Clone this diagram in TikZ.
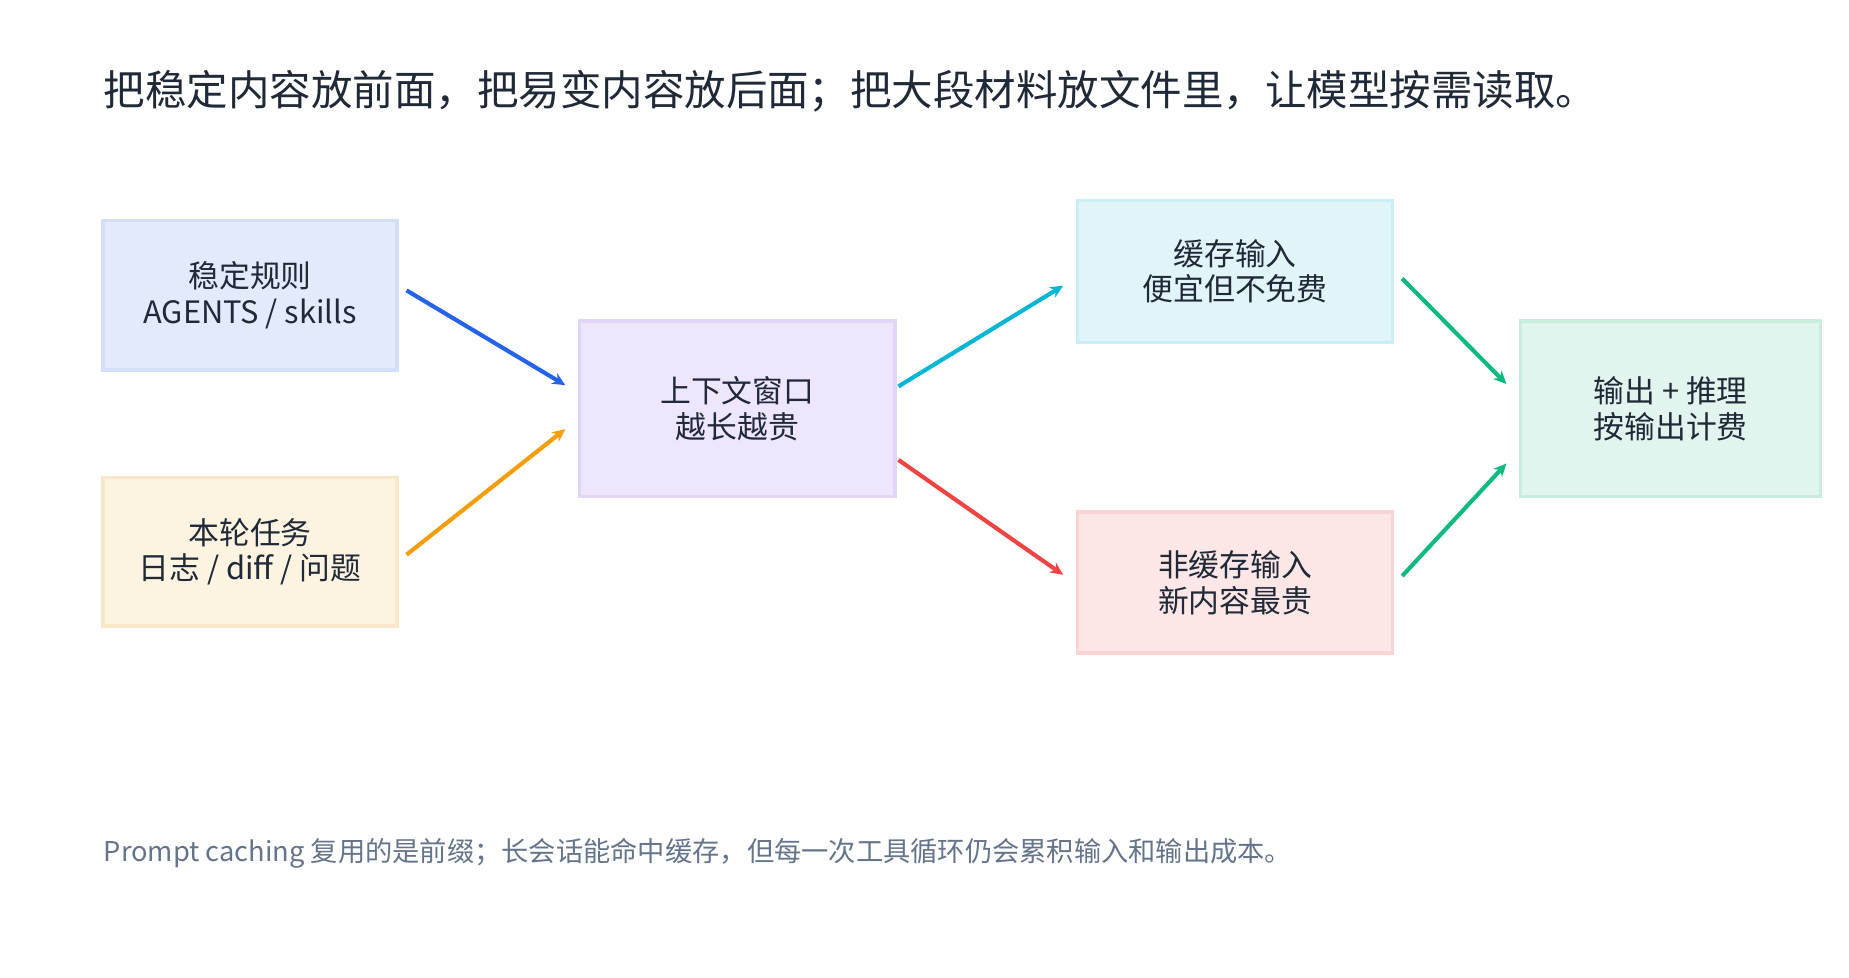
\documentclass[tikz,border=0pt]{standalone}
\usepackage{fontspec}
\setmainfont{Noto Sans CJK SC}
\usetikzlibrary{arrows.meta}
\definecolor{txt}{HTML}{1F2937}
\definecolor{cb}{HTML}{D3DFF8}\definecolor{co}{HTML}{F8E7C8}\definecolor{cp}{HTML}{E2D6F8}
\definecolor{cc}{HTML}{C9EEF4}\definecolor{cr}{HTML}{F8D4D4}\definecolor{cg}{HTML}{C9EEDE}
\definecolor{fb}{HTML}{E3EAF9}\definecolor{fo}{HTML}{FCF3E1}\definecolor{fp}{HTML}{EEE6FB}
\definecolor{fc}{HTML}{E1F5F9}\definecolor{fr}{HTML}{FCE6E6}\definecolor{fg}{HTML}{E1F5EE}
\definecolor{ablue}{HTML}{2563EB}\definecolor{aorange}{HTML}{F59E0B}\definecolor{acyan}{HTML}{06B6D4}
\definecolor{ared}{HTML}{EF4444}\definecolor{agreen}{HTML}{10B981}\definecolor{note}{HTML}{64748B}
\begin{document}
\begin{tikzpicture}[x=1pt,y=-1pt,
  arr/.style={line width=3.5pt, -{Stealth[length=11pt,width=10pt]}, color=#1},
  bx/.style 2 args={draw=#1, fill=#2, line width=3pt, inner sep=0pt, align=center, font=\fontsize{26}{30}\selectfont, text=txt}]
\useasboundingbox (0,0) rectangle (1560,825);
\node[anchor=west, text=txt, font=\fontsize{35}{40}\selectfont] (title) at (84,77) {把稳定内容放前面，把易变内容放后面；把大段材料放文件里，让模型按需读取。};
\node[bx={cb}{fb}, minimum width=248, minimum height=126] (a) at (211,249) {稳定规则\\AGENTS / skills};
\node[bx={co}{fo}, minimum width=248, minimum height=125] (b) at (211,465.5) {本轮任务\\日志 / diff / 问题};
\node[bx={cp}{fp}, minimum width=266, minimum height=148] (c) at (622,345) {上下文窗口\\越长越贵};
\node[bx={cc}{fc}, minimum width=266, minimum height=120] (d) at (1042,229) {缓存输入\\便宜但不免费};
\node[bx={cr}{fr}, minimum width=266, minimum height=119] (e) at (1042,491.5) {非缓存输入\\新内容最贵};
\node[bx={cg}{fg}, minimum width=253, minimum height=148] (f) at (1409.5,345) {输出 + 推理\\按输出计费};
\coordinate (a1) at (343,245); \coordinate (c1) at (477,325);
\coordinate (b1) at (343,468); \coordinate (c2) at (477,362);
\coordinate (c3) at (758,326); \coordinate (d1) at (897,241);
\coordinate (c4) at (758,388); \coordinate (e1) at (897,485);
\coordinate (d2) at (1183,235); \coordinate (f1) at (1271,324);
\coordinate (e2) at (1183,486); \coordinate (f2) at (1271,391);
\draw[arr=ablue] (a1) -- (c1);
\draw[arr=aorange] (b1) -- (c2);
\draw[arr=acyan] (c3) -- (d1);
\draw[arr=ared] (c4) -- (e1);
\draw[arr=agreen] (d2) -- (f1);
\draw[arr=agreen] (e2) -- (f2);
\node[anchor=west, text=note, font=\fontsize{23}{26}\selectfont] (nt) at (84,720) {Prompt caching 复用的是前缀；长会话能命中缓存，但每一次工具循环仍会累积输入和输出成本。};
\end{tikzpicture}
\end{document}
